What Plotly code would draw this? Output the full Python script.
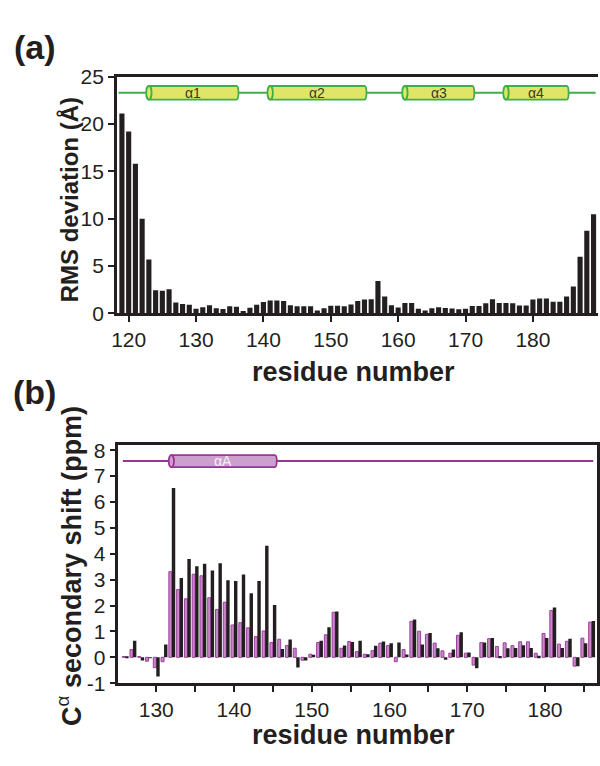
import plotly.graph_objects as go

# ---------------- data ----------------
# (a) RMS deviation per residue
rms_residues = list(range(119, 190))
rms_values = [
    21.1, 19.2, 15.8, 10.0, 5.7, 2.45, 2.4, 2.55, 1.15, 1.0,      # 119-128
    0.9, 0.5, 0.65, 0.85, 0.55, 0.45, 0.75, 0.7, 0.25, 0.6,       # 129-138
    0.9, 1.2, 1.35, 1.35, 1.3, 0.85, 0.75, 0.75, 0.75, 0.3,       # 139-148
    0.55, 0.8, 0.8, 0.75, 0.95, 1.3, 1.47, 1.5, 3.42, 1.78,       # 149-158
    0.85, 0.61, 1.09, 1.09, 0.48, 0.31, 0.55, 0.65, 0.58, 0.51,   # 159-168
    0.44, 0.48, 0.79, 0.79, 1.06, 1.5, 1.09, 1.09, 1.06, 0.82,    # 169-178
    0.82, 1.47, 1.57, 1.57, 1.23, 1.23, 1.78, 2.83, 5.98, 8.74,   # 179-188
    10.48,                                                        # 189
]
rms_helices = [("α1", 123, 136), ("α2", 141, 155), ("α3", 161, 171), ("α4", 176, 185)]
rms_xticks = [120, 130, 140, 150, 160, 170, 180]
rms_yticks = [0, 5, 10, 15, 20, 25]

# (b) C-alpha secondary shifts per residue (two data sets)
cs_residues = list(range(126, 187))
cs_pink = [
    0.03, 0.30, 0.03, -0.15, -0.40, -0.17, 3.31, 2.62, 2.26, 3.21,   # 126-135
    3.15, 2.30, 1.85, 2.13, 1.25, 1.34, 1.14, 0.80, 1.02, 0.57,      # 136-145
    0.70, 0.46, 0.35, -0.11, 0.12, 0.57, 0.87, 1.74, 0.35, 0.61,     # 146-155
    0.22, 0.12, 0.26, 0.55, 0.46, -0.17, 0.30, 1.39, 1.01, 0.89,     # 156-165
    0.55, 0.25, 0.16, 0.85, 0.16, -0.30, 0.57, 0.72, 0.42, 0.56,     # 166-175
    0.45, 0.60, 0.60, 0.16, 0.92, 1.81, 0.51, 0.62, -0.34, 0.74,     # 176-185
    1.36,                                                            # 186
]
cs_black = [
    0.01, 0.64, -0.12, -0.02, -0.74, 0.50, 6.54, 3.06, 3.80, 3.52,   # 126-135
    3.61, 3.35, 3.63, 2.98, 2.95, 3.20, 2.48, 2.95, 4.31, 2.02,      # 136-145
    0.32, 0.69, -0.39, -0.12, 0.10, 0.64, 1.16, 1.77, 0.46, 0.59,    # 146-155
    0.64, 0.12, 0.45, 0.61, 0.54, 0.57, 0.11, 1.46, 0.50, 0.94,      # 156-165
    0.35, -0.09, 0.30, 0.97, 0.19, -0.42, 0.57, 0.75, 0.05, 0.35,    # 166-175
    0.36, 0.47, 0.36, 0.06, 0.75, 1.92, 0.36, 0.72, -0.34, 0.54,     # 176-185
    1.40,                                                            # 186
]
cs_helices = [("αA", 132, 145)]
cs_xticks = [130, 140, 150, 160, 170, 180]
cs_xminor = [135, 145, 155, 165, 175, 185]
cs_yticks = list(range(-1, 9))

# ---------------- styling ----------------
W, H = 600, 766
INK = "#231f20"
FONT = "Liberation Sans, Arial, Helvetica, sans-serif"
GREEN, YELLOW = "#3fae49", "#e1e567"
PURPLE, LILAC = "#9a3594", "#cc9fcf"
PINK_FILL, PINK_EDGE = "#c888c8", "#9d3f9d"


def px_x(p):
    return p / W


def px_y(p):
    return 1 - p / H


fig = go.Figure()

fig.add_trace(go.Bar(
    x=rms_residues, y=rms_values, width=0.76,
    marker=dict(color=INK, line=dict(width=0)),
    xaxis="x", yaxis="y", showlegend=False,
))
fig.add_trace(go.Bar(
    x=cs_residues, y=cs_pink, width=0.38, offset=-0.38,
    marker=dict(color=PINK_FILL, line=dict(color=PINK_EDGE, width=1)),
    xaxis="x2", yaxis="y2", showlegend=False,
))
fig.add_trace(go.Bar(
    x=cs_residues, y=cs_black, width=0.44, offset=0.0,
    marker=dict(color=INK, line=dict(width=0)),
    xaxis="x2", yaxis="y2", showlegend=False,
))

axis_common = dict(
    showline=True, linecolor=INK, linewidth=2.5,
    ticks="outside", ticklen=6, tickwidth=2, tickcolor=INK,
    showgrid=False, zeroline=False,
    tickfont=dict(family=FONT, size=21, color=INK),
)

fig.update_layout(
    width=W, height=H,
    margin=dict(l=0, r=0, t=0, b=0),
    paper_bgcolor="white", plot_bgcolor="white",
    barmode="overlay",
    xaxis=dict(
        axis_common, domain=[px_x(112.3), 1.0], range=[118.24, 189.66],
        tickvals=rms_xticks, ticktext=[str(v) for v in rms_xticks],
        mirror=True, anchor="y",
    ),
    yaxis=dict(
        axis_common, domain=[px_y(310.7), px_y(66.7)], range=[0, 25],
        tickvals=rms_yticks, ticktext=[str(v) for v in rms_yticks],
        anchor="x",
    ),
    xaxis2=dict(
        axis_common, domain=[px_x(114), px_x(599)], range=[125.14, 186.69],
        tickvals=cs_xticks, ticktext=[str(v) for v in cs_xticks],
        minor=dict(tickvals=cs_xminor, ticks="outside", ticklen=6,
                   tickwidth=2, tickcolor=INK, showgrid=False),
        mirror=True, anchor="y2",
    ),
    yaxis2=dict(
        axis_common, domain=[px_y(692), px_y(446.7)], range=[-1, 8.19],
        tickvals=cs_yticks, ticktext=[str(v) for v in cs_yticks],
        mirror=True, anchor="x2",
    ),
)


def cylinder(xr, yr, label, left, right, yc, h, rx, bulge, fill, edge, txt_color):
    """Helix drawn as a cylinder: open body with rounded right end and an elliptical left face."""
    xs = left + rx
    xe = right - bulge
    k = bulge * 4 / 3
    path = (f"M {xs},{yc - h} L {xe},{yc - h} "
            f"C {xe + k},{yc - h} {xe + k},{yc + h} {xe},{yc + h} "
            f"L {xs},{yc + h} Z")
    fig.add_shape(type="path", path=path, xref=xr, yref=yr,
                  fillcolor=fill, line=dict(color=edge, width=1.8))
    fig.add_shape(type="circle", xref=xr, yref=yr,
                  x0=left, x1=left + 2 * rx, y0=yc - h, y1=yc + h,
                  fillcolor=fill, line=dict(color=edge, width=1.8))
    fig.add_annotation(x=(xs + xe) / 2, y=yc, xref=xr, yref=yr, text=label,
                       showarrow=False, font=dict(family=FONT, size=14, color=txt_color))


# helix track for (a)
fig.add_shape(type="line", xref="x", yref="y", x0=118.5, x1=189.3, y0=23.3, y1=23.3,
              line=dict(color=GREEN, width=2))
for name, s, e in rms_helices:
    cylinder("x", "y", name, s - 0.4, e + 0.3, 23.3, 0.72, 0.4, 0.3, YELLOW, GREEN, "#3a3a2a")

# helix track for (b)
fig.add_shape(type="line", xref="x2", yref="y2", x0=125.7, x1=186.2, y0=7.58, y1=7.58,
              line=dict(color=PURPLE, width=2))
for name, s, e in cs_helices:
    cylinder("x2", "y2", name, s - 0.4, e + 0.5, 7.58, 0.23, 0.34, 0.25, LILAC, PURPLE, "#f6eef6")

# panel letters and axis titles
annots = [
    dict(text="<b>(a)</b>", x=px_x(29), y=px_y(36), size=34),
    dict(text="<b>(b)</b>", x=px_x(29), y=px_y(392), size=34),
    dict(text="<b>RMS deviation (Å)</b>", x=px_x(64), y=px_y(194), textangle=-90, size=24),
    dict(text="<b>residue number</b>", x=px_x(352), y=px_y(371), size=27),
    dict(text="<b>C</b><sup>α</sup><b> secondary shift (ppm)</b>", x=px_x(64), y=px_y(571),
         textangle=-90, size=27),
    dict(text="<b>residue number</b>", x=px_x(352), y=px_y(745), size=27),
]
for a in annots:
    size = a.pop("size")
    fig.add_annotation(xref="paper", yref="paper", showarrow=False,
                       xanchor="center", yanchor="middle",
                       font=dict(family=FONT, size=size, color=INK), **a)

fig.write_html("out.html")
